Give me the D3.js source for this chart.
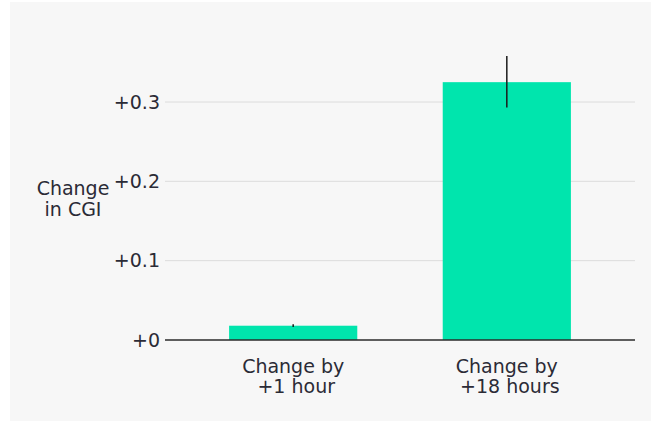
<!DOCTYPE html>
<html><head><meta charset="utf-8">
<script src="https://cdn.jsdelivr.net/npm/d3@7"></script>
<style>
html,body{margin:0;padding:0;background:#fff;}
text{font-family:"DejaVu Sans",sans-serif;fill:#2b2b36;white-space:pre;}
</style></head>
<body><svg id="c" width="661" height="421"></svg>
<script>
const categories = ["Change by\n +1 hour", "Change by\n +18 hours"];
const values = [0.018, 0.325];
const errLow = [0.0165, 0.293];
const errHigh = [0.0200, 0.358];
const yTicks = [0, 0.1, 0.2, 0.3];
const yTickLabels = ["+0", "+0.1", "+0.2", "+0.3"];
const yTitle = ["Change", "in CGI"];

const FS = 19;
const svg = d3.select("#c");
svg.append("rect").attr("x",10).attr("y",2).attr("width",641).attr("height",419).attr("fill","#f7f7f7");

const x = d3.scaleBand().domain(categories).range([165,635]).paddingInner(0.4).paddingOuter(0.3);
const y = d3.scaleLinear().domain([0,0.3]).range([340,102]);

// grid
svg.append("g").selectAll("line").data(yTicks.filter(d=>d>0)).join("line")
  .attr("x1",165).attr("x2",635).attr("y1",d=>y(d)).attr("y2",d=>y(d))
  .attr("stroke","#dcdcdc").attr("stroke-width",1);

// bars
svg.append("g").selectAll("rect").data(values).join("rect")
  .attr("x",(d,i)=>x(categories[i])).attr("width",x.bandwidth())
  .attr("y",d=>y(d)).attr("height",d=>y(0)-y(d)).attr("fill","#00e5ad");

// error bars
svg.append("g").selectAll("line").data(values).join("line")
  .attr("x1",(d,i)=>x(categories[i])+x.bandwidth()/2).attr("x2",(d,i)=>x(categories[i])+x.bandwidth()/2)
  .attr("y1",(d,i)=>y(errLow[i])).attr("y2",(d,i)=>y(errHigh[i]))
  .attr("stroke","#1a1a1a").attr("stroke-width",1.5);

// baseline axis
svg.append("line").attr("x1",165).attr("x2",635).attr("y1",y(0)).attr("y2",y(0))
  .attr("stroke","#2b2b2b").attr("stroke-width",1.5);

// y tick labels
const yAxis = d3.axisLeft(y).tickValues(yTicks).tickFormat((d,i)=>yTickLabels[i]).tickSize(0).tickPadding(5);
const ga = svg.append("g").attr("transform","translate(165,0)").call(yAxis);
ga.select(".domain").remove();
ga.selectAll("text").attr("font-size",FS).attr("font-family","DejaVu Sans").attr("fill","#2b2b36");

// x labels
categories.forEach((c,i)=>{
  const lines = c.split("\n");
  const t = svg.append("text").attr("text-anchor","middle").attr("font-size",FS)
    .attr("x", x(c)+x.bandwidth()/2).attr("y", 373);
  lines.forEach((l,j)=>t.append("tspan").attr("x", x(c)+x.bandwidth()/2).attr("dy", j?20:0).text(l));
});

// y title
const yt = svg.append("text").attr("text-anchor","middle").attr("font-size",FS).attr("x",73).attr("y",195);
yTitle.forEach((l,j)=>yt.append("tspan").attr("x",73).attr("dy",j?21:0).text(l));
</script></body></html>
